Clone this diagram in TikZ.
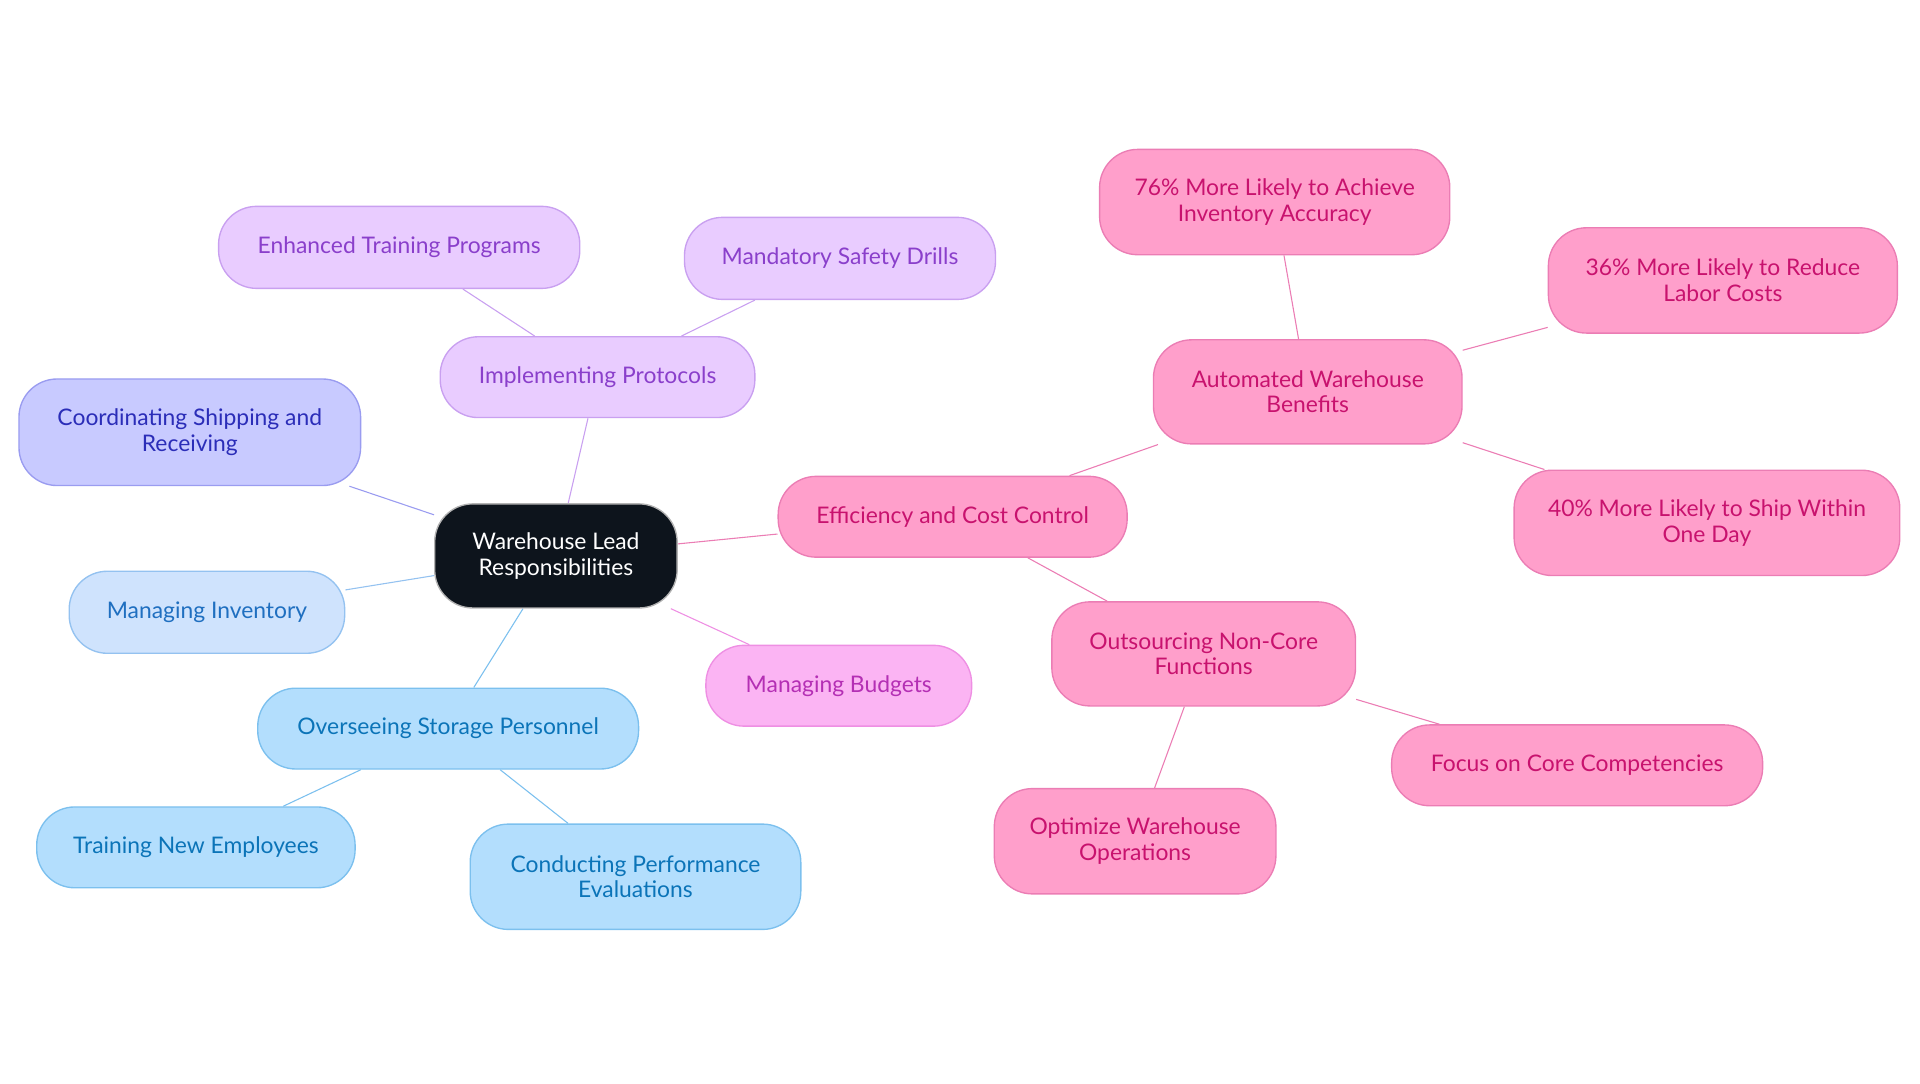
\documentclass[tikz,border=0pt]{standalone}
\usepackage{fontspec}
\setmainfont{Lato}
\usetikzlibrary{backgrounds}
\definecolor{coreFill}{HTML}{0D141C}
\definecolor{purFill}{HTML}{E9CCFF}\definecolor{purLine}{HTML}{C9A0F0}\definecolor{purText}{HTML}{8A3FCB}
\definecolor{vioFill}{HTML}{C8CAFF}\definecolor{vioLine}{HTML}{9A9CF0}\definecolor{vioText}{HTML}{2B2DB8}
\definecolor{lbFill}{HTML}{CFE3FD}\definecolor{lbLine}{HTML}{94C2F0}\definecolor{lbText}{HTML}{1F6FC0}
\definecolor{skyFill}{HTML}{B3DEFD}\definecolor{skyLine}{HTML}{7CC0EE}\definecolor{skyText}{HTML}{0B74B8}
\definecolor{magFill}{HTML}{FBB4F3}\definecolor{magLine}{HTML}{EE8FE3}\definecolor{magText}{HTML}{B42FB4}
\definecolor{pnkFill}{HTML}{FF9FCB}\definecolor{pnkLine}{HTML}{EB7DB4}\definecolor{pnkText}{HTML}{C8126E}
\tikzset{
  box/.style={draw, line width=0.5pt, rounded corners=14pt, align=center, inner sep=0pt,
    font=\fontsize{8.4}{9.4}\selectfont},
  core/.style={box, fill=coreFill, draw=gray!60, text=white},
  pur/.style={box, fill=purFill, draw=purLine, text=purText},
  vio/.style={box, fill=vioFill, draw=vioLine, text=vioText},
  lb/.style={box, fill=lbFill, draw=lbLine, text=lbText},
  sky/.style={box, fill=skyFill, draw=skyLine, text=skyText},
  mag/.style={box, fill=magFill, draw=magLine, text=magText},
  pnk/.style={box, fill=pnkFill, draw=pnkLine, text=pnkText},
  link/.style={line width=1.1pt}
}
\begin{document}
\begin{tikzpicture}[x=0.45pt, y=-0.45pt]
        \useasboundingbox (0,0) rectangle (1568,884.5);
        \node[core, minimum width=198*0.45pt, minimum height=85*0.45pt] (lead) at (454,454) {Warehouse Lead\\Responsibilities};
        \node[pur, minimum width=257*0.45pt, minimum height=66*0.45pt] (proto) at (488,308) {Implementing Protocols};
        \node[pur, minimum width=295*0.45pt, minimum height=67*0.45pt] (train) at (326,202) {Enhanced Training Programs};
        \node[pur, minimum width=254*0.45pt, minimum height=67*0.45pt] (drill) at (686,211) {Mandatory Safety Drills};
        \node[vio, minimum width=279*0.45pt, minimum height=87*0.45pt] (ship) at (155,353) {Coordinating Shipping and\\Receiving};
        \node[lb, minimum width=225*0.45pt, minimum height=67*0.45pt] (inv) at (169,500) {Managing Inventory};
        \node[sky, minimum width=311*0.45pt, minimum height=66*0.45pt] (staff) at (366,595) {Overseeing Storage Personnel};
        \node[sky, minimum width=260*0.45pt, minimum height=66*0.45pt] (newemp) at (160,692) {Training New Employees};
        \node[sky, minimum width=270*0.45pt, minimum height=86*0.45pt] (perf) at (519,716) {Conducting Performance\\Evaluations};
        \node[mag, minimum width=217*0.45pt, minimum height=66*0.45pt] (budget) at (685,560) {Managing Budgets};
        \node[pnk, minimum width=285*0.45pt, minimum height=66*0.45pt] (eff) at (778,422) {Efficiency and Cost Control};
        \node[pnk, minimum width=252*0.45pt, minimum height=85*0.45pt] (auto) at (1068,320) {Automated Warehouse\\Benefits};
        \node[pnk, minimum width=286*0.45pt, minimum height=86*0.45pt] (acc) at (1041,165) {76\% More Likely to Achieve\\Inventory Accuracy};
        \node[pnk, minimum width=285*0.45pt, minimum height=86*0.45pt] (labor) at (1407,229) {36\% More Likely to Reduce\\Labor Costs};
        \node[pnk, minimum width=315*0.45pt, minimum height=86*0.45pt] (oneday) at (1394,427) {40\% More Likely to Ship Within\\One Day};
        \node[pnk, minimum width=248*0.45pt, minimum height=85*0.45pt] (outs) at (983,534) {Outsourcing Non-Core\\Functions};
        \node[pnk, minimum width=303*0.45pt, minimum height=66*0.45pt] (focus) at (1288,625) {Focus on Core Competencies};
        \node[pnk, minimum width=230*0.45pt, minimum height=86*0.45pt] (optim) at (927,687) {Optimize Warehouse\\Operations};
        % connectors
        \begin{scope}[on background layer, link]
        \draw[purLine] (lead) -- (proto);
        \draw[purLine] (proto) -- (train);
        \draw[purLine] (proto) -- (drill);
        \draw[vioLine] (lead) -- (ship);
        \draw[lbLine] (lead) -- (inv);
        \draw[skyLine] (lead) -- (staff);
        \draw[skyLine] (staff) -- (newemp);
        \draw[skyLine] (staff) -- (perf);
        \draw[magLine] (lead) -- (budget);
        \draw[pnkLine] (lead) -- (eff);
        \draw[pnkLine] (eff) -- (auto);
        \draw[pnkLine] (auto) -- (acc);
        \draw[pnkLine] (auto) -- (labor);
        \draw[pnkLine] (auto) -- (oneday);
        \draw[pnkLine] (eff) -- (outs);
        \draw[pnkLine] (outs) -- (focus);
        \draw[pnkLine] (outs) -- (optim);
        \end{scope}
\end{tikzpicture}
\end{document}
